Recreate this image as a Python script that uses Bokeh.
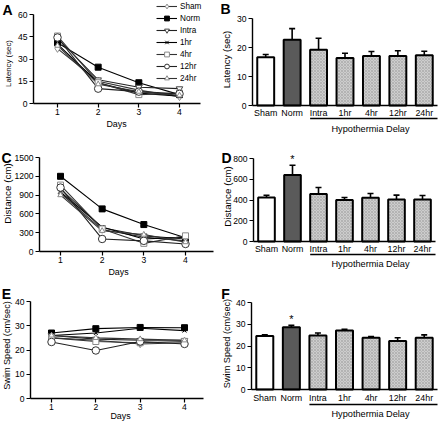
import math
from bokeh.plotting import figure
from bokeh.layouts import column, row
from bokeh.models import (Range1d, FixedTicker, Label, Legend, LegendItem, LinearAxis,
                          Whisker, TeeHead, ColumnDataSource, Arrow)
from bokeh.embed import file_html
from bokeh.resources import INLINE
from bokeh.core.properties import value, field

# ---------------- data ----------------
days = [1, 2, 3, 4]
groups = ["Sham", "Norm", "Intra", "1hr", "4hr", "12hr", "24hr"]

# Panel A: latency (sec) per training day
lat_sham = [37, 15, 9, 4.5]
lat_norm = [41, 24.5, 14, 6]
lat_intra = [44, 16, 11, 10]
lat_1hr = [40, 14, 7, 5]
lat_4hr = [45.5, 14, 6, 7]
lat_12hr = [44.5, 10, 8, 6.5]
lat_24hr = [39, 13, 8, 5.5]

# Panel C: distance (cm) per training day
dist_sham = [930, 350, 230, 170]
dist_norm = [1200, 680, 430, 220]
dist_intra = [1000, 380, 250, 200]
dist_1hr = [950, 390, 200, 230]
dist_4hr = [1060, 360, 130, 250]
dist_12hr = [1020, 200, 170, 120]
dist_24hr = [900, 330, 270, 150]

# Panel E: swim speed (cm/sec) per training day
spd_sham = [25, 24, 22.5, 23]
spd_norm = [27, 28.8, 29.3, 29.2]
spd_intra = [26, 24.5, 24, 24]
spd_1hr = [26, 27, 29, 28]
spd_4hr = [25, 23.5, 23, 23.5]
spd_12hr = [23.3, 19.8, 23.5, 22.5]
spd_24hr = [26, 25, 24.5, 24]

# Bar panels (mean +/- SEM)
bar_cats = ["Sham", "Norm", "Intra", "1hr", "4hr", "12hr", "24hr"]
lat_mean = [16.6, 22.7, 19.2, 16.4, 17.1, 17.1, 17.3]
lat_sem = [1.0, 3.8, 4.0, 1.6, 1.5, 1.8, 1.4]
dist_mean = [424, 640, 457, 399, 421, 405, 405]
dist_sem = [22, 95, 64, 25, 42, 42, 39]
spd_mean = [24.6, 28.6, 24.8, 27.1, 23.8, 22.3, 23.8]
spd_sem = [0.5, 0.9, 1.2, 0.6, 0.6, 1.5, 1.3]
sig_flags = [False, True, False, False, False, False, False]

# Axis ticks
lat_ticks = [0, 15, 30, 45, 60]
dist_ticks = [0, 300, 600, 900, 1200, 1500]
spd_ticks = [0, 10, 20, 30, 40]
latbar_ticks = [0, 10, 20, 30]
distbar_ticks = [0, 200, 400, 600, 800]

# ---------------- styles ----------------
FONT = "Liberation Sans"
marker_style = {
    "Sham": ("diamond", 7.5, "#8a8a8a", "white", "#333333"),
    "Norm": ("square", 6, "black", "black", "black"),
    "Intra": ("inverted_triangle", 6.5, "#444444", "white", "#222222"),
    "1hr": ("x", 5.5, "black", "black", "black"),
    "4hr": ("square", 6, "#8a8a8a", "white", "#333333"),
    "12hr": ("circle", 7.5, "#333333", "white", "#222222"),
    "24hr": ("triangle", 5.5, "#8a8a8a", "white", "#333333"),
}
bar_fill = ["white", "#5a5a5a", "#cdcdcd", "#cdcdcd", "#cdcdcd", "#cdcdcd", "#cdcdcd"]
bar_hatch = [" ", " ", "x", "x", "x", "x", "x"]
BAR_W = 0.64


def lin_map(pa, va, pb, vb):
    k = (vb - va) / (pb - pa)
    return lambda px: va + (px - pa) * k


def make_fig(g, xmap, ymap):
    W, H = g["w"], g["h"]
    p = figure(width=W, height=H, x_range=Range1d(xmap(0), xmap(W)),
               y_range=Range1d(ymap(H), ymap(0)), x_axis_location=None, y_axis_location=None,
               output_backend="svg", toolbar_location=None, min_border=0)
    p.title.visible = False
    p.outline_line_color = None
    p.background_fill_color = "white"
    p.border_fill_color = "white"
    for gr in p.grid:
        gr.visible = False
    return p


def style_axis(ax, size=8.6, standoff=2):
    ax.axis_line_color = "black"
    ax.axis_line_width = 1.4
    ax.major_tick_line_color = "black"
    ax.major_tick_line_width = 1.2
    ax.major_tick_in = 0
    ax.major_tick_out = 4
    ax.minor_tick_line_color = None
    ax.major_label_text_font = FONT
    ax.major_label_text_font_size = f"{size}px"
    ax.major_label_text_color = "black"
    ax.major_label_standoff = standoff


def lab(p, g, rx, ry, text, size, bold=False, angle=0.0, align="center", baseline="middle"):
    p.add_layout(Label(x=rx - g["ox"], y=g["h"] - (ry - g["oy"]), x_units="screen", y_units="screen",
                       text=text, text_font=FONT, text_font_size=f"{size}px",
                       text_font_style="bold" if bold else "normal", angle=angle,
                       text_align=align, text_baseline=baseline, text_color="black"))


def line_panel(g, axis_x, axis_r, day1_x, day4_x, y0_px, ytop_px, ymax, yticks, series,
               ylabel, ylabel_xy, ylab_size, letter, letter_xy, days_xy, legend_box=None):
    ox, oy = g["ox"], g["oy"]
    xmap = lin_map(day1_x - ox, 1, day4_x - ox, 4)
    ymap = lin_map(y0_px - oy, 0, ytop_px - oy, ymax)
    p = make_fig(g, xmap, ymap)
    yax = LinearAxis(fixed_location=xmap(axis_x - ox), bounds=(0, ymax),
                     ticker=FixedTicker(ticks=yticks))
    style_axis(yax)
    p.add_layout(yax, "left")
    xax = LinearAxis(fixed_location=0, bounds=(xmap(axis_x - ox), xmap(axis_r - ox)),
                     ticker=FixedTicker(ticks=days))
    style_axis(xax, standoff=1)
    p.add_layout(xax, "below")
    line_rs = {}
    for name, vals in series:
        line_rs[name] = p.line(days, vals, line_color=marker_style[name][4], line_width=1.1)
    items = []
    for name, vals in series:
        mk, sz, mlc, mfc, _ = marker_style[name]
        sr = p.scatter(days, vals, marker=mk, size=sz, line_color=mlc, fill_color=mfc, line_width=1.0)
        items.append(LegendItem(label=name, renderers=[line_rs[name], sr]))
    if legend_box is not None:
        lx, lbottom = legend_box
        leg = Legend(items=items, location=(lx - ox, g["h"] - (lbottom - oy)), padding=0, margin=0,
                     spacing=0, glyph_height=12, glyph_width=21, label_height=12, label_standoff=3,
                     label_text_font=FONT, label_text_font_size="8.2px", label_text_color="black",
                     background_fill_alpha=0, border_line_alpha=0)
        p.add_layout(leg)
    lab(p, g, letter_xy[0], letter_xy[1], letter, 14, bold=True)
    lab(p, g, ylabel_xy[0], ylabel_xy[1], ylabel, ylab_size, angle=math.pi / 2)
    lab(p, g, days_xy[0], days_xy[1], "Days", 8.9)
    return p


def bar_panel(g, axis_x, axis_r, y0_px, ytop_px, ymax, yticks, means, sems, ylabel, ylabel_xy,
              ylab_size, letter, letter_xy, cat_standoff, underline_y, delay_xy, star=False):
    ox, oy = g["ox"], g["oy"]
    ncat = len(bar_cats)
    xmap = lin_map(axis_x - ox, 0, axis_r - ox, ncat)
    ymap = lin_map(y0_px - oy, 0, ytop_px - oy, ymax)
    p = make_fig(g, xmap, ymap)
    xpos = [i + 0.5 for i in range(ncat)]
    yax = LinearAxis(fixed_location=0, bounds=(0, ymax), ticker=FixedTicker(ticks=yticks))
    style_axis(yax)
    p.add_layout(yax, "left")
    xax = LinearAxis(fixed_location=0, bounds=(0, ncat), ticker=FixedTicker(ticks=xpos),
                     major_label_overrides={x: c for x, c in zip(xpos, bar_cats)})
    style_axis(xax, size=8.9, standoff=cat_standoff)
    xax.major_tick_line_color = None
    xax.major_tick_out = 0
    xax.axis_line_width = 1.6
    p.add_layout(xax, "below")
    src = ColumnDataSource(dict(
        x=xpos, mean=means,
        upper=[m + s for m, s in zip(means, sems)],
        lower=[m - s for m, s in zip(means, sems)],
        fill=bar_fill, hatch=bar_hatch))
    p.vbar(x="x", top="mean", width=BAR_W, source=src, fill_color="fill",
           line_color="black", line_width=2.0, hatch_pattern=field("hatch"),
           hatch_color="#8c8c8c", hatch_scale=3, hatch_weight=0.5, hatch_alpha=0.8)
    p.add_layout(Whisker(source=src, base="x", upper="upper", lower="lower",
                         line_color="black", line_width=1.6,
                         upper_head=TeeHead(size=6, line_color="black", line_width=1.6),
                         lower_head=TeeHead(size=6, line_color="black", line_width=1.6)))
    if star:
        xs = [x for x, f in zip(xpos, sig_flags) if f]
        ys = [m + s + 0.07 * ymax for m, s, f in zip(means, sems, sig_flags) if f]
        p.text(x=xs, y=ys, text=["*"] * len(xs), text_font=value(FONT),
               text_font_size="11px", text_align="center",
               text_baseline="middle", text_color="black")
    # underline below the hypothermia-delay groups (from Intra bar's left edge to axis end)
    first = bar_cats.index("Intra")
    x0 = xpos[first] - BAR_W / 2
    xs_px = (x0 - xmap(0)) / (xmap(1) - xmap(0))
    yy = g["h"] - (underline_y - oy)
    p.add_layout(Arrow(end=None, x_start=xs_px, y_start=yy, x_end=axis_r - ox, y_end=yy,
                       start_units="screen", end_units="screen",
                       line_color="black", line_width=1.5))
    lab(p, g, delay_xy[0], delay_xy[1], "Hypothermia Delay", 9.2)
    lab(p, g, letter_xy[0], letter_xy[1], letter, 14, bold=True)
    lab(p, g, ylabel_xy[0], ylabel_xy[1], ylabel, ylab_size, angle=math.pi / 2)
    return p


gA = dict(ox=0, oy=0, w=220, h=135)
gB = dict(ox=220, oy=0, w=219, h=135)
gC = dict(ox=0, oy=135, w=220, h=144)
gD = dict(ox=220, oy=135, w=219, h=144)
gE = dict(ox=0, oy=279, w=220, h=142)
gF = dict(ox=220, oy=279, w=219, h=142)

pA = line_panel(gA, 33, 200, 57, 179, 103, 14, 60, lat_ticks,
                list(zip(groups, [lat_sham, lat_norm, lat_intra, lat_1hr, lat_4hr, lat_12hr, lat_24hr])),
                "Latency (sec)", (8, 63), 7.8, "A", (7, 9), (116, 123), legend_box=(156, 84))
pB = bar_panel(gB, 252, 437, 105, 18, 30, latbar_ticks, lat_mean, lat_sem,
               "Latency (sec)", (226, 59), 9.6, "B", (225, 8), 2, 118, (370, 128))
pC = line_panel(gC, 39, 213, 60, 185, 251, 157, 1500, dist_ticks,
                list(zip(groups, [dist_sham, dist_norm, dist_intra, dist_1hr, dist_4hr, dist_12hr, dist_24hr])),
                "Distance (cm)", (7, 193), 9.8, "C", (6, 157), (118, 271))
pD = bar_panel(gD, 253, 435, 241, 158, 800, distbar_ticks, dist_mean, dist_sem,
               "Distance (cm)", (227, 196), 9.8, "D", (226, 157), 2, 254, (370, 263), star=True)
pE = line_panel(gE, 30, 203, 51, 184, 398, 301, 40, spd_ticks,
                list(zip(groups, [spd_sham, spd_norm, spd_intra, spd_1hr, spd_4hr, spd_12hr, spd_24hr])),
                "Swim Speed (cm/sec)", (6, 345), 9.1, "E", (6, 293), (120, 415))
pF = bar_panel(gF, 251, 437, 389, 302, 40, spd_ticks, spd_mean, spd_sem,
               "Swim Speed (cm/sec)", (226, 343), 9.2, "F", (225, 293), 3, 404, (370, 413), star=True)

layout = column(row(pA, pB, spacing=0), row(pC, pD, spacing=0), row(pE, pF, spacing=0), spacing=0)
open("out.html", "w").write(file_html(layout, INLINE))
